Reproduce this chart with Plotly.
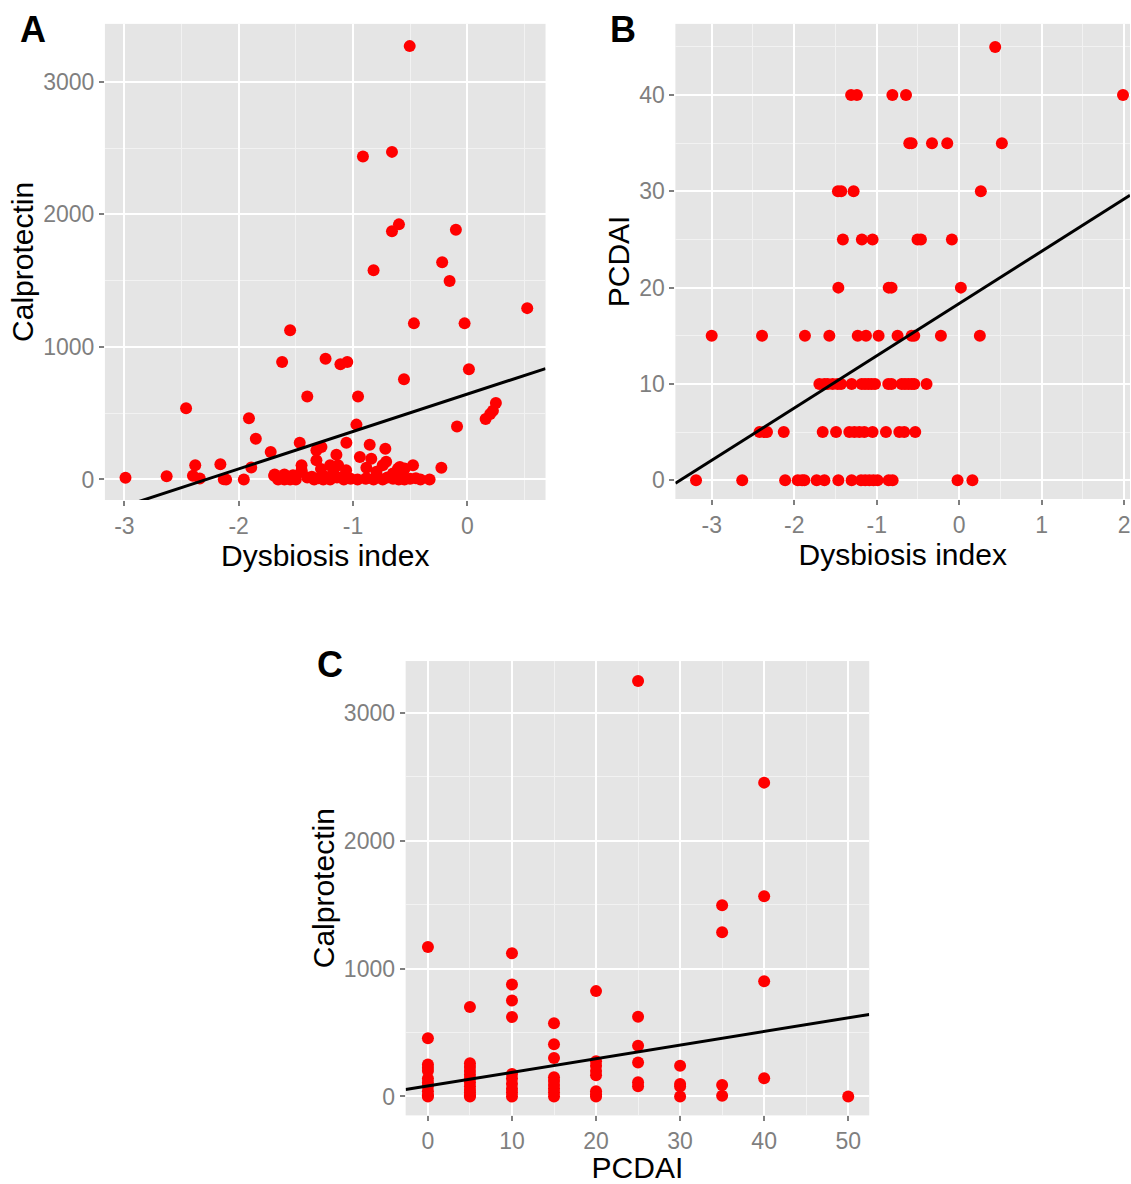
import plotly.graph_objects as go

W, H = 1131, 1184

# ---------------- data ----------------
# Panel A: Dysbiosis index vs Calprotectin
a_dys = [-0.504, -0.913, -0.659, -0.598, -0.659, -0.10, -0.22, -0.82, -0.155, 0.524,
         -0.467, -0.024, -1.55, -1.24, -1.62, -1.11, -1.05, 0.014, -0.554, -1.40,
         -0.956, 0.25, 0.224, 0.20, 0.16, -2.46, -1.91, -0.97, -0.09, -1.85,
         -1.466, -1.058, -0.854, -1.276, -0.717, -1.32, -1.72, -1.145, -0.94, -0.84,
         -1.32, -0.71, -2.16, -2.38, -1.45, -1.13, -1.20, -0.475, -0.74, -1.89,
         -0.227, -0.883, -0.59, -1.28, -0.607, -0.548, -1.06, -1.17, -1.45, -0.795,
         -1.45, -0.563, -0.65, -1.685, -1.60, -1.525, -2.40, -1.69, -2.63, -2.99,
         -2.34, -2.13, -2.11, -1.955, -1.655, -1.60, -1.55, -1.50, -1.40, -1.36,
         -1.30, -1.24, -1.20, -1.14, -1.09, -1.02, -0.96, -0.89, -0.82, -0.74,
         -0.65, -0.60, -0.55, -0.50, -0.41, -0.33, -1.34, -1.26, -1.08, -0.88,
         -0.70, -0.45]
a_cal = [3270, 2437, 2472, 1925, 1873, 1885, 1640, 1578, 1498, 1293,
         1178, 1178, 1126, 911, 886, 869, 886, 831, 757, 627,
         627, 577, 519, 494, 457, 537, 462, 414, 400, 307,
         277, 277, 262, 245, 232, 220, 207, 187, 170, 157,
         145, 133, 115, 107, 107, 107, 107, 107, 107, 90,
         88, 88, 95, 80, 82, 82, 70, 70, 70, 58,
         58, 58, 45, 37, 37, 32, 28, 28, 25, 13,
         7, 2, 0, 0, 0, 0, 0, 0, 15, 20,
         10, 20, 0, 15, 20, 5, 0, 5, 0, 0,
         5, 0, 0, 5, 0, 0, 0, 0, 0, 10,
         15, 10]
a_fit = {"intercept": 644, "slope": 282}
a_xticks = [-3, -2, -1, 0]
a_yticks = [0, 1000, 2000, 3000]

# Panel B: Dysbiosis index vs PCDAI
b_dys = [0.436,
         -1.31, -1.24, -0.81, -0.645, 1.985,
         -0.605, -0.577, -0.33, -0.145, 0.517,
         -1.47, -1.43, -1.28, 0.262,
         -1.41, -1.18, -1.05, -0.505, -0.464, -0.089,
         -1.465, -0.855, -0.82, 0.02,
         -3.0, -2.39, -1.87, -1.574, -1.23, -1.13, -0.977, -0.747, -0.577, -0.545, -0.222, 0.25,
         -1.695, -1.634, -1.594, -1.534, -1.474, -1.432, -1.304, -1.183, -1.142, -1.102, -1.062,
         -1.021, -0.86, -0.82, -0.698, -0.658, -0.617, -0.577, -0.545, -0.396,
         -2.42, -2.36, -2.33, -2.127, -1.655, -1.493, -1.332, -1.271, -1.211, -1.15, -1.05,
         -0.888, -0.726, -0.666, -0.533,
         -3.19, -2.63, -2.11, -1.957, -1.905, -1.877, -1.728, -1.634, -1.465, -1.304, -1.19,
         -1.14, -1.09, -1.04, -0.99, -0.855, -0.807, -0.02, 0.16]
b_pcdai = [45,
           40, 40, 40, 40, 40,
           35, 35, 35, 35, 35,
           30, 30, 30, 30,
           25, 25, 25, 25, 25, 25,
           20, 20, 20, 20,
           15, 15, 15, 15, 15, 15, 15, 15, 15, 15, 15, 15,
           10, 10, 10, 10, 10, 10, 10, 10, 10, 10, 10,
           10, 10, 10, 10, 10, 10, 10, 10, 10,
           5, 5, 5, 5, 5, 5, 5, 5, 5, 5, 5,
           5, 5, 5, 5,
           0, 0, 0, 0, 0, 0, 0, 0, 0, 0, 0,
           0, 0, 0, 0, 0, 0, 0, 0]
b_fit = {"intercept": 18.35, "slope": 5.43}
b_xticks = [-3, -2, -1, 0, 1, 2]
b_yticks = [0, 10, 20, 30, 40]

# Panel C: PCDAI vs Calprotectin
c_pcdai = ([0] * 11 + [5] * 12 + [10] * 10 + [15] * 9 + [20] * 8 + [25] * 6
           + [30] * 4 + [35] * 4 + [40] * 4 + [50])
c_cal = ([1170, 455, 250, 225, 200, 140, 110, 80, 40, 10, 0]
         + [700, 260, 230, 200, 170, 140, 110, 80, 50, 30, 10, 0]
         + [1121, 875, 751, 622, 175, 140, 100, 60, 30, 0]
         + [572, 409, 300, 150, 120, 90, 60, 30, 0]
         + [824, 275, 240, 200, 165, 40, 15, 0]
         + [3250, 624, 396, 266, 111, 80]
         + [241, 98, 78, 0]
         + [1495, 1284, 90, 5]
         + [2455, 1567, 901, 142]
         + [0])
c_fit = {"intercept": 82, "slope": 10.66}
c_xticks = [0, 10, 20, 30, 40, 50]
c_yticks = [0, 1000, 2000, 3000]

panel_letters = ["A", "B", "C"]

# ---------------- layout helpers ----------------
def dom_x(x0, x1):
    return [x0 / W, min(x1 / W, 1.0)]

def dom_y(top, bottom):
    return [1 - bottom / H, 1 - top / H]

FONT = "Liberation Sans, Arial, sans-serif"
TICKC = "#7F7F7F"

def lab(v):
    return ("-%g" % abs(v)) if v < 0 else ("%g" % v)

def axis(domain, rng, ticks, minor_dtick, anchor, title, standoff):
    return dict(
        domain=domain, range=rng, anchor=anchor,
        tickmode="array", tickvals=ticks, ticktext=[lab(v) for v in ticks],
        showgrid=True, gridcolor="white", gridwidth=2,
        minor=dict(dtick=minor_dtick, tick0=0, showgrid=True,
                   gridcolor="#F2F2F2", gridwidth=1, ticks=""),
        zeroline=False, showline=False,
        ticks="outside", ticklen=5, tickwidth=1.5, tickcolor=TICKC,
        tickfont=dict(family=FONT, size=23, color=TICKC),
        ticklabeloverflow="allow",
        title=dict(text=title, font=dict(family=FONT, size=30, color="black"),
                   standoff=standoff),
        fixedrange=True,
    )

fig = go.Figure()

panels = [
    (a_dys, a_cal, a_fit, "x", "y", [-3.17, 0.684]),
    (b_dys, b_pcdai, b_fit, "x2", "y2", [-3.44, 2.07]),
    (c_pcdai, c_cal, c_fit, "x3", "y3", [-2.65, 52.5]),
]
for xs, ys, fit, xa, ya, xr in panels:
    fig.add_trace(go.Scatter(
        x=xs, y=ys, mode="markers", xaxis=xa, yaxis=ya,
        marker=dict(color="#FF0000", size=12, line=dict(width=0)),
        showlegend=False, hoverinfo="skip"))
    fig.add_trace(go.Scatter(
        x=xr, y=[fit["intercept"] + fit["slope"] * v for v in xr],
        mode="lines", xaxis=xa, yaxis=ya,
        line=dict(color="black", width=3),
        showlegend=False, hoverinfo="skip"))

fig.update_layout(
    width=W, height=H,
    margin=dict(l=0, r=0, t=0, b=0),
    paper_bgcolor="white", plot_bgcolor="#E5E5E5",
    xaxis=axis(dom_x(105, 546), [-3.17, 0.684], a_xticks, 0.5, "y", "Dysbiosis index", 5),
    yaxis=axis(dom_y(24, 503), [-155, 3438], a_yticks, 500, "x", "Calprotectin", 0),
    xaxis2=axis(dom_x(676, 1131), [-3.44, 2.07], b_xticks, 0.5, "y2", "Dysbiosis index", 5),
    yaxis2=axis(dom_y(24, 502), [-1.96, 47.4], b_yticks, 5, "x2", "PCDAI", 0),
    xaxis3=axis(dom_x(406, 870), [-2.65, 52.5], c_xticks, 5, "y3", "PCDAI", 9),
    yaxis3=axis(dom_y(665, 1122), [-148, 3406], c_yticks, 500, "x3", "Calprotectin", 0),
)

letter_pos = [(33, 30), (624, 30), (330, 668)]
for txt, (px, py) in zip(panel_letters, letter_pos):
    fig.add_annotation(text="<b>%s</b>" % txt, x=px / W, y=1 - py / H,
                       xref="paper", yref="paper", showarrow=False,
                       xanchor="center", yanchor="middle",
                       font=dict(family="Liberation Sans, Arial, sans-serif", size=36, color="black"))

fig.write_html("out.html", config={"displayModeBar": False})
